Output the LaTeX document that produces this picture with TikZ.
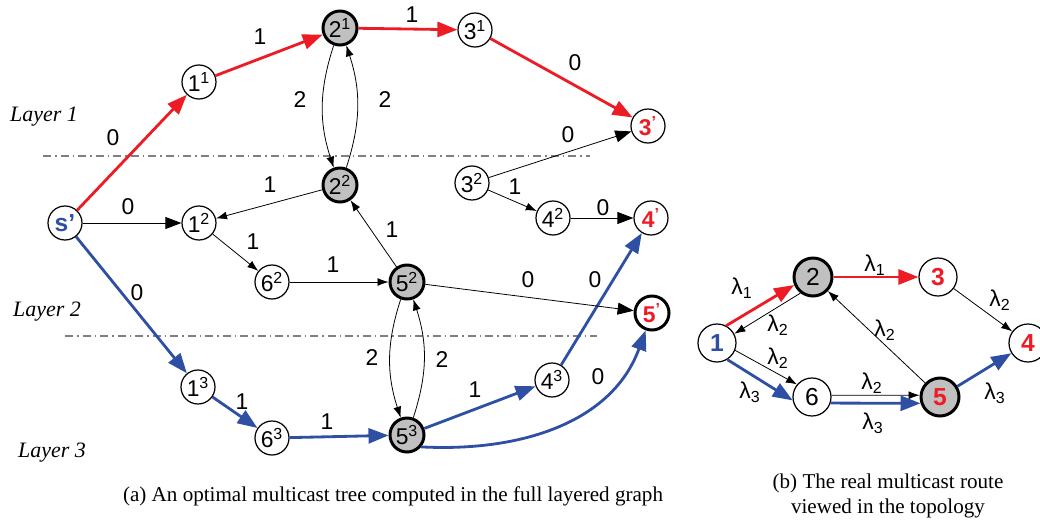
\documentclass[tikz,border=0pt]{standalone}
\usepackage{fontspec}
\setmainfont{Liberation Sans}
\newfontfamily\capfont{Liberation Serif}
\usetikzlibrary{arrows.meta, positioning, calc}
\definecolor{treered}{RGB}{237,28,36}
\definecolor{treeblue}{RGB}{46,79,163}
\definecolor{relaygray}{RGB}{192,192,192}

\begin{document}
\begin{tikzpicture}[x=0.2mm, y=-0.2mm]
    % Define styles
    \tikzset{
        vtx/.style={circle, draw, line width=0.7pt, minimum size=6.8mm, inner sep=0pt, font=\fontsize{13}{13}\selectfont},
        relay/.style={vtx, line width=1.7pt, fill=relaygray},
        dest/.style={vtx, text=treered, font=\fontsize{13}{13}\selectfont\bfseries},
        topo/.style={vtx, minimum size=7.6mm, font=\fontsize{14}{14}\selectfont},
        wt/.style={font=\fontsize{13}{13}\selectfont, inner sep=1pt},
        layer/.style={font=\capfont\itshape\fontsize{12.5}{12.5}\selectfont},
        caption/.style={font=\capfont\fontsize{12}{14}\selectfont, align=center},
        thinarr/.style={-{Latex[length=2.2mm, width=1.6mm]}, line width=0.45pt},
        bigtip/.style={-{Triangle[length=3.2mm, width=2.4mm]}},
        redpath/.style={-{Triangle[length=4mm, width=3mm]}, line width=1.6pt, treered},
        bluepath/.style={-{Triangle[length=4mm, width=3mm]}, line width=1.6pt, treeblue},
        layerline/.style={gray, line width=0.6pt, dash pattern=on 1.6mm off 0.8mm on 0.3mm off 0.8mm}
    }
    \useasboundingbox (0,0) rectangle (1040,523);

    % Layer separators
    \draw[layerline] (43,156) -- (590,156);
    \draw[layerline] (65,336) -- (597,336);
    \node[layer] (lay1) at (44,117) {Layer 1};
    \node[layer] (lay2) at (47,312) {Layer 2};
    \node[layer] (lay3) at (52,453) {Layer 3};

    % Layered graph nodes
    \node[vtx, text=treeblue, font=\fontsize{14}{14}\selectfont\bfseries] (s) at (65,223) {s'};
    \node[vtx] (n11) at (199,82) {1\textsuperscript{1}};
    \node[relay] (n21) at (340,28) {2\textsuperscript{1}};
    \node[vtx] (n31) at (475,30) {3\textsuperscript{1}};
    \node[dest] (t3) at (648,126) {3\textsuperscript{'}};
    \node[relay] (n22) at (340,185) {2\textsuperscript{2}};
    \node[vtx] (n12) at (199,223) {1\textsuperscript{2}};
    \node[vtx] (n32) at (472,183) {3\textsuperscript{2}};
    \node[vtx] (n42) at (553,218) {4\textsuperscript{2}};
    \node[dest] (t4) at (651,218) {4\textsuperscript{'}};
    \node[vtx] (n62) at (272,282) {6\textsuperscript{2}};
    \node[relay] (n52) at (407,282) {5\textsuperscript{2}};
    \node[dest, line width=1.7pt] (t5) at (652,313) {5\textsuperscript{'}};
    \node[vtx] (n13) at (198,387) {1\textsuperscript{3}};
    \node[vtx] (n63) at (272,438) {6\textsuperscript{3}};
    \node[relay] (n53) at (407,435) {5\textsuperscript{3}};
    \node[vtx] (n43) at (552,380) {4\textsuperscript{3}};

    % Red tree
    \draw[redpath] (s) -- (n11);
    \draw[redpath] (n11) -- (n21);
    \draw[redpath] (n21) -- (n31);
    \draw[redpath] (n31) -- (t3);

    % Blue tree
    \draw[bluepath] (s) -- (n13);
    \draw[bluepath] (n13) -- (n63);
    \draw[bluepath] (n63) -- (n53);
    \draw[bluepath] (n53) -- (n43);
    \draw[bluepath] (n43) -- (t4);
    \draw[bluepath] (n53.-40) to[out=-3, in=-110] (t5);

    % Other edges
    \draw[thinarr, bigtip] (s) -- (n12);
    \draw[thinarr] (n22) -- (n12);
    \draw[thinarr] (n12) -- (n62);
    \draw[thinarr] (n62) -- (n52);
    \draw[thinarr] (n52) -- (n22);
    \draw[thinarr, bigtip] (n32) -- (t3);
    \draw[thinarr] (n32) -- (n42);
    \draw[thinarr, bigtip] (n42) -- (t4);
    \draw[thinarr, bigtip] (n52) -- (t5);
    \draw[thinarr] (n21.250) to[bend right=18] (n22.110);
    \draw[thinarr] (n22.70) to[bend right=18] (n21.290);
    \draw[thinarr] (n52.250) to[bend right=18] (n53.110);
    \draw[thinarr] (n53.70) to[bend right=18] (n52.290);

    % Weights
    \node[wt] (w1) at (113,138) {0};
    \node[wt] (w2) at (260,37) {1};
    \node[wt] (w3) at (412,15) {1};
    \node[wt] (w4) at (575,63) {0};
    \node[wt] (w5) at (300,100) {2};
    \node[wt] (w6) at (385,100) {2};
    \node[wt] (w7) at (270,185) {1};
    \node[wt] (w8) at (128,207) {0};
    \node[wt] (w9) at (253,242) {1};
    \node[wt] (w10) at (568,135) {0};
    \node[wt] (w11) at (515,187) {1};
    \node[wt] (w12) at (603,208) {0};
    \node[wt] (w13) at (392,230) {1};
    \node[wt] (w14) at (137,293) {0};
    \node[wt] (w15) at (333,265) {1};
    \node[wt] (w16) at (528,280) {0};
    \node[wt] (w17) at (595,280) {0};
    \node[wt] (w18) at (372,358) {2};
    \node[wt] (w19) at (442,360) {2};
    \node[wt] (w20) at (242,402) {1};
    \node[wt] (w21) at (327,422) {1};
    \node[wt] (w22) at (475,390) {1};
    \node[wt] (w23) at (598,377) {0};

    % Topology nodes
    \node[topo, text=treeblue, font=\fontsize{14}{14}\selectfont\bfseries] (r1) at (717,343) {1};
    \node[topo, relay, minimum size=7.6mm, font=\fontsize{14}{14}\selectfont] (r2) at (813,277) {2};
    \node[topo, text=treered, font=\fontsize{14}{14}\selectfont\bfseries] (r3) at (938,277) {3};
    \node[topo, text=treered, font=\fontsize{14}{14}\selectfont\bfseries] (r4) at (1028,343) {4};
    \node[topo] (r6) at (812,397) {6};
    \node[topo, relay, minimum size=7.6mm, text=treered, font=\fontsize{14}{14}\selectfont\bfseries] (r5) at (940,397) {5};

    % Topology links
    \draw[redpath] (r1.62) -- (r2.203);
    \draw[thinarr] (r2.232) -- (r1.28);
    \draw[redpath] (r2) -- (r3);
    \draw[thinarr] (r3) -- (r4);
    \draw[thinarr] (r5) -- (r2);
    \draw[thinarr] (r1.-22) -- (r6.140);
    \draw[bluepath] (r1.-58) -- (r6.190);
    \draw[thinarr] (r6.5) -- (r5.175);
    \draw[bluepath] (r6.-18) -- (r5.-162);
    \draw[bluepath] (r5) -- (r4);

    % Wavelengths
    \node[wt] (l1) at (742,288) {λ\textsubscript{1}};
    \node[wt] (l2) at (778,325) {λ\textsubscript{2}};
    \node[wt] (l3) at (875,265) {λ\textsubscript{1}};
    \node[wt] (l4) at (1000,300) {λ\textsubscript{2}};
    \node[wt] (l5) at (885,330) {λ\textsubscript{2}};
    \node[wt] (l6) at (778,358) {λ\textsubscript{2}};
    \node[wt] (l7) at (750,392) {λ\textsubscript{3}};
    \node[wt] (l8) at (872,383) {λ\textsubscript{2}};
    \node[wt] (l9) at (873,423) {λ\textsubscript{3}};
    \node[wt] (l10) at (995,393) {λ\textsubscript{3}};

    % Captions
    \node[caption] (capa) at (393,496) {(a) An optimal multicast tree computed in the full layered graph};
    \node[caption] (capb) at (888,496) {(b) The real multicast route\\viewed in the topology};
\end{tikzpicture}
\end{document}
